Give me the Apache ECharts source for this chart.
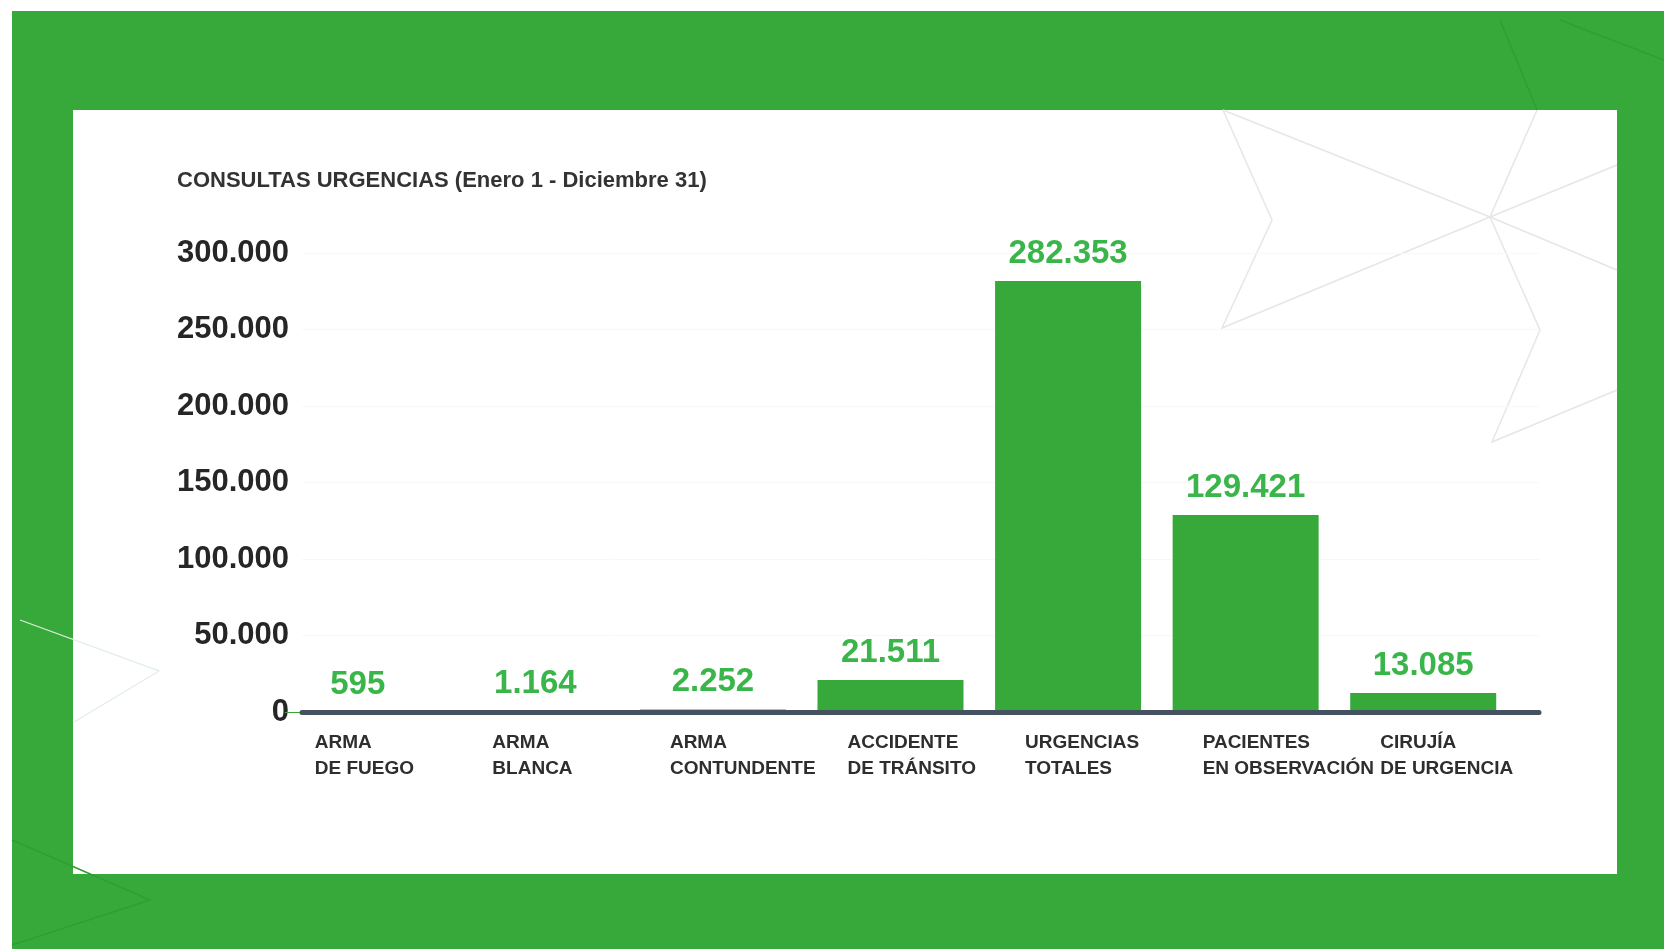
<!DOCTYPE html>
<html>
<head>
<meta charset="utf-8">
<title>Consultas urgencias</title>
<script src="https://cdn.jsdelivr.net/npm/echarts@6/dist/echarts.min.js"></script>
<style>
  html, body { margin: 0; padding: 0; background: #fff; }
  #main { width: 1664px; height: 949px; }
</style>
</head>
<body>
<div id="main"></div>
<script>
// datos del gráfico
var categories = ['ARMA\nDE FUEGO', 'ARMA\nBLANCA', 'ARMA\nCONTUNDENTE', 'ACCIDENTE\nDE TRÁNSITO',
  'URGENCIAS\nTOTALES', 'PACIENTES\nEN OBSERVACIÓN', 'CIRUJÍA\nDE URGENCIA'];
var values = [595, 1164, 2252, 21511, 282353, 129421, 13085];
var yMax = 300000;
var yStep = 50000;

var FONT = '"Liberation Sans", Arial, sans-serif';
var GREEN = '#37a83a';

// 282353 -> "282.353"
function fmt(v) {
  return String(Math.round(v)).replace(/\B(?=(\d{3})+(?!\d))/g, '.');
}

var chart = echarts.init(document.getElementById('main'));

var option = {
  backgroundColor: GREEN,
  animation: false,
  title: {
    text: 'CONSULTAS URGENCIAS (Enero 1 - Diciembre 31)',
    left: 177,
    top: 170,
    padding: 0,
    textStyle: { fontFamily: FONT, fontSize: 22, fontWeight: 'bold', color: '#333' }
  },
  graphic: [
    // bordes blancos y panel
    { type: 'rect', z: -10, shape: { x: 0, y: 0, width: 1664, height: 11 }, style: { fill: '#fff' } },
    { type: 'rect', z: -10, shape: { x: 0, y: 0, width: 12, height: 949 }, style: { fill: '#fff' } },
    { type: 'rect', z: -10, shape: { x: 73, y: 110, width: 1544, height: 764 }, style: { fill: '#fff' } },
    // líneas decorativas
    { type: 'polyline', z: -5, shape: { points: [[1223, 110], [1272, 220], [1222, 328], [1490, 217], [1617, 165]] },
      style: { stroke: '#e6e6e6', lineWidth: 1.5, fill: null } },
    { type: 'polyline', z: -5, shape: { points: [[1223, 110], [1490, 217], [1617, 270]] },
      style: { stroke: '#e6e6e6', lineWidth: 1.5, fill: null } },
    { type: 'polyline', z: -5, shape: { points: [[1537, 110], [1490, 217], [1540, 330], [1492, 442], [1617, 390]] },
      style: { stroke: '#e6e6e6', lineWidth: 1.5, fill: null } },
    { type: 'polyline', z: -5, shape: { points: [[1500, 20], [1537, 110]] },
      style: { stroke: '#309e34', lineWidth: 1.5, fill: null } },
    { type: 'polyline', z: -5, shape: { points: [[1560, 20], [1664, 60]] },
      style: { stroke: '#309e34', lineWidth: 1.5, fill: null } },
    { type: 'polyline', z: -5, shape: { points: [[20, 620], [159, 671], [74, 722]] },
      style: { stroke: '#e0eee0', lineWidth: 1.2, fill: null } },
    { type: 'polyline', z: -5, shape: { points: [[12, 840], [150, 900], [12, 945]] },
      style: { stroke: '#309e34', lineWidth: 1.5, fill: null } }
  ],
  grid: [
    { left: 269, width: 1243, top: 254, bottom: 236 },
    { left: 302, width: 1237, top: 253, bottom: 237 }
  ],
  xAxis: [
    {
      type: 'category',
      gridIndex: 0,
      data: categories,
      axisLine: { show: false },
      axisTick: { show: false },
      axisLabel: {
        margin: 17,
        interval: 0,
        formatter: function (val) {
          return val.split('\n').map(function (s) { return '{a|' + s + '}'; }).join('\n');
        },
        rich: {
          a: { width: 86, align: 'left', fontFamily: FONT, fontSize: 19, fontWeight: 'bold',
               color: '#2e2e2e', lineHeight: 26 }
        }
      }
    },
    {
      // solo la línea base, por encima de las barras
      type: 'value',
      gridIndex: 1,
      min: 0,
      max: 1,
      z: 5,
      axisLine: { show: true, onZero: false, lineStyle: { color: '#44525f', width: 5 } },
      axisTick: { show: false },
      axisLabel: { show: false },
      splitLine: { show: false }
    }
  ],
  yAxis: [
    { type: 'value', gridIndex: 0, min: 0, max: yMax, interval: yStep, show: false },
    {
      type: 'value',
      gridIndex: 1,
      min: 0,
      max: yMax,
      interval: yStep,
      axisLine: { show: false },
      axisTick: { show: false },
      axisLabel: {
        margin: 13,
        fontFamily: FONT,
        fontSize: 31,
        fontWeight: 'bold',
        color: '#262626',
        formatter: fmt
      },
      splitLine: { lineStyle: { color: '#f8f8f8', width: 1 } }
    }
  ],
  series: [
    {
      type: 'bar',
      xAxisIndex: 0,
      yAxisIndex: 0,
      data: values,
      barWidth: 146,
      itemStyle: { color: '#36a93a' },
      label: {
        show: true,
        position: 'top',
        distance: 11,
        fontFamily: FONT,
        fontSize: 33,
        fontWeight: 'bold',
        color: '#3ab54a',
        formatter: function (p) { return fmt(p.value); }
      }
    }
  ]
};

chart.setOption(option);
</script>
</body>
</html>
